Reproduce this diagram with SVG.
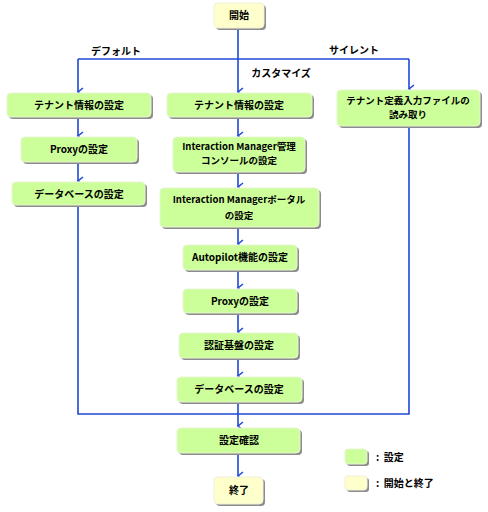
<svg xmlns="http://www.w3.org/2000/svg" width="488" height="512" viewBox="0 0 488 512">
<defs>
<style>
.g{fill:#ccff99;stroke:#e6f5d0;stroke-width:1}
.y{fill:#ffffcc;stroke:#f0f0d8;stroke-width:1}
.sh{fill:#8c8c8c}
.t{font-family:"Noto Sans CJK JP","Liberation Sans",sans-serif;font-size:10px;font-weight:bold;fill:#000;text-anchor:middle}
.t2{font-size:9.5px}
.l{font-family:"Noto Sans CJK JP","Liberation Sans",sans-serif;font-size:10px;font-weight:bold;fill:#000;white-space:pre}
.c{fill:none;stroke:#1f48d8;stroke-width:1.6}
</style>
<marker id="a" markerWidth="10" markerHeight="10" refX="5" refY="8" orient="auto-start-reverse" markerUnits="userSpaceOnUse" viewBox="0 0 10 10">
<polyline points="1,3 5,8 9,3" fill="none" stroke="#1f48d8" stroke-width="1.6"/>
</marker>
</defs>
<rect width="488" height="512" fill="#fff"/>
<g id="connectors">
<path class="c" d="M238,28V59"/>
<path class="c" d="M78,59H409"/>
<path class="c" d="M238,59V92" marker-end="url(#a)"/>
<path class="c" d="M78,59V92" marker-end="url(#a)"/>
<path class="c" d="M409,59V89" marker-end="url(#a)"/>
<path class="c" d="M78,117V136" marker-end="url(#a)"/>
<path class="c" d="M78,163V181" marker-end="url(#a)"/>
<path class="c" d="M78,206V414H409V126"/>
<path class="c" d="M238,117V136" marker-end="url(#a)"/>
<path class="c" d="M238,172V187" marker-end="url(#a)"/>
<path class="c" d="M238,227V244" marker-end="url(#a)"/>
<path class="c" d="M238,270V288" marker-end="url(#a)"/>
<path class="c" d="M238,313V332" marker-end="url(#a)"/>
<path class="c" d="M238,358V376" marker-end="url(#a)"/>
<path class="c" d="M238,402V426" marker-end="url(#a)"/>
<path class="c" d="M238,453V476" marker-end="url(#a)"/>
</g>
<g id="labels">
<text class="t" x="116" y="55">デフォルト</text>
<text class="t" x="354" y="54">サイレント</text>
<text class="t" x="281" y="77">カスタマイズ</text>
</g>
<g id="start">
<rect class="sh" x="216" y="5" width="50" height="25" rx="4"/>
<rect class="y" x="214" y="3" width="50" height="25" rx="4"/>
<text class="t" x="239" y="19">開始</text>
</g>
<g id="d1">
<rect class="sh" x="9" y="95" width="144" height="24" rx="4"/>
<rect class="g" x="7" y="93" width="144" height="24" rx="4"/>
<text class="t" x="79" y="109">テナント情報の設定</text>
</g>
<g id="d2">
<rect class="sh" x="23" y="139" width="116" height="25" rx="4"/>
<rect class="g" x="21" y="137" width="116" height="25" rx="4"/>
<text class="t" x="79" y="153">Proxyの設定</text>
</g>
<g id="d3">
<rect class="sh" x="14" y="184" width="133" height="23" rx="4"/>
<rect class="g" x="12" y="182" width="133" height="23" rx="4"/>
<text class="t" x="79" y="198">データベースの設定</text>
</g>
<g id="c1">
<rect class="sh" x="169" y="95" width="145" height="24" rx="4"/>
<rect class="g" x="167" y="93" width="145" height="24" rx="4"/>
<text class="t" x="239" y="109">テナント情報の設定</text>
</g>
<g id="c2">
<rect class="sh" x="175" y="139" width="132" height="35" rx="4"/>
<rect class="g" x="173" y="137" width="132" height="35" rx="4"/>
<text class="t t2" x="239" y="150">Interaction Manager管理</text>
<text class="t t2" x="239" y="164">コンソールの設定</text>
</g>
<g id="c3">
<rect class="sh" x="162" y="190" width="159" height="39" rx="4"/>
<rect class="g" x="160" y="188" width="159" height="39" rx="4"/>
<text class="t t2" x="239" y="203">Interaction Managerポータル</text>
<text class="t t2" x="239" y="219">の設定</text>
</g>
<g id="c4">
<rect class="sh" x="185" y="247" width="114" height="25" rx="4"/>
<rect class="g" x="183" y="245" width="114" height="25" rx="4"/>
<text class="t" x="240" y="261">Autopilot機能の設定</text>
</g>
<g id="c5">
<rect class="sh" x="185" y="291" width="114" height="24" rx="4"/>
<rect class="g" x="183" y="289" width="114" height="24" rx="4"/>
<text class="t" x="240" y="305">Proxyの設定</text>
</g>
<g id="c6">
<rect class="sh" x="181" y="335" width="119" height="25" rx="4"/>
<rect class="g" x="179" y="333" width="119" height="25" rx="4"/>
<text class="t" x="239" y="349">認証基盤の設定</text>
</g>
<g id="c7">
<rect class="sh" x="179" y="379" width="125" height="25" rx="4"/>
<rect class="g" x="177" y="377" width="125" height="25" rx="4"/>
<text class="t" x="239" y="393">データベースの設定</text>
</g>
<g id="s1">
<rect class="sh" x="339" y="92" width="143" height="36" rx="4"/>
<rect class="g" x="337" y="90" width="143" height="36" rx="4"/>
<text class="t t2" x="408" y="104">テナント定義入力ファイルの</text>
<text class="t t2" x="408" y="118">読み取り</text>
</g>
<g id="confirm">
<rect class="sh" x="179" y="430" width="123" height="25" rx="4"/>
<rect class="g" x="177" y="428" width="123" height="25" rx="4"/>
<text class="t" x="239" y="444">設定確認</text>
</g>
<g id="end">
<rect class="sh" x="216" y="479" width="49" height="27" rx="4"/>
<rect class="y" x="214" y="477" width="49" height="27" rx="4"/>
<text class="t" x="239" y="494">終了</text>
</g>
<g id="legend">
<rect class="sh" x="347" y="451" width="22" height="15" rx="3"/>
<rect class="g" x="345" y="449" width="22" height="15" rx="3"/>
<text class="l" x="376" y="461">:  設定</text>
<rect class="sh" x="347" y="478" width="22" height="14" rx="3"/>
<rect class="y" x="345" y="476" width="22" height="14" rx="3"/>
<text class="l" x="376" y="487">:  開始と終了</text>
</g>
</svg>
